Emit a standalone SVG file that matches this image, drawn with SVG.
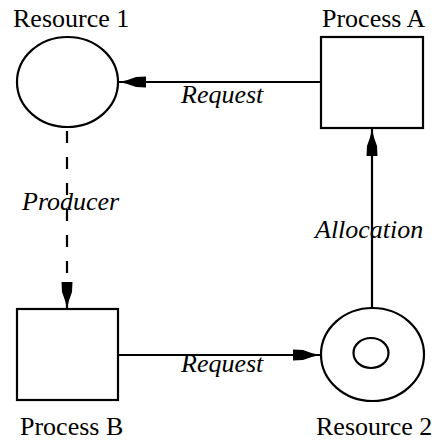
<svg xmlns="http://www.w3.org/2000/svg" width="437" height="441" viewBox="0 0 437 441">
<style>
.shape{fill:#fff;stroke:#000;stroke-width:2.2}
.lbl{font-family:'Liberation Serif','Times New Roman','DejaVu Serif',serif;font-size:26px;fill:#000}
.elbl{font-family:'Liberation Serif','Times New Roman','DejaVu Serif',serif;font-size:26px;font-style:italic;fill:#000}
.edge{stroke:#000;stroke-width:2.2;fill:none}
.dash{stroke-dasharray:12 14}
</style>
<defs>
<marker id="ah" markerUnits="userSpaceOnUse" viewBox="-30 -7 32 14" refX="0" refY="0" markerWidth="32" markerHeight="14" orient="auto">
<path d="M0,0 Q-10,-2 -17,-5 L-27,-5.5 L-27,5.5 L-17,5 Q-10,2 0,0 Z" fill="#000"/>
</marker>
</defs>
<rect width="437" height="441" fill="#fff"/>
<g id="connectors">
<line class="edge" x1="321" y1="82" x2="119" y2="82" marker-end="url(#ah)"/>
<line class="edge" x1="372" y1="338" x2="372" y2="129" marker-end="url(#ah)"/>
<line class="edge dash" x1="67" y1="131" x2="67" y2="286"/>
<line class="edge" x1="67" y1="290" x2="67" y2="309" marker-end="url(#ah)"/>
<line class="edge" x1="118" y1="355" x2="320" y2="355" marker-end="url(#ah)"/>
<text class="elbl" x="181" y="103" font-family="Liberation Serif, serif">Request</text>
<text class="elbl" x="22" y="210" font-family="Liberation Serif, serif">Producer</text>
<text class="elbl" x="315" y="238" font-family="Liberation Serif, serif">Allocation</text>
<text class="elbl" x="181" y="372" font-family="Liberation Serif, serif">Request</text>
</g>
<g id="resource1">
<ellipse class="shape" cx="67.5" cy="82" rx="50.5" ry="45"/>
<text class="lbl" x="13" y="27">Resource 1</text>
</g>
<g id="processA">
<rect class="shape" x="321" y="37" width="102" height="91"/>
<text class="lbl" x="322" y="27">Process A</text>
</g>
<g id="processB">
<rect class="shape" x="17" y="309" width="101" height="91"/>
<text class="lbl" x="20" y="435">Process B</text>
</g>
<g id="resource2">
<ellipse class="shape" cx="372.5" cy="354.5" rx="51.5" ry="46.5"/>
<ellipse class="shape" cx="371" cy="353" rx="17.5" ry="15"/>
<text class="lbl" x="316" y="435">Resource 2</text>
</g>
</svg>
